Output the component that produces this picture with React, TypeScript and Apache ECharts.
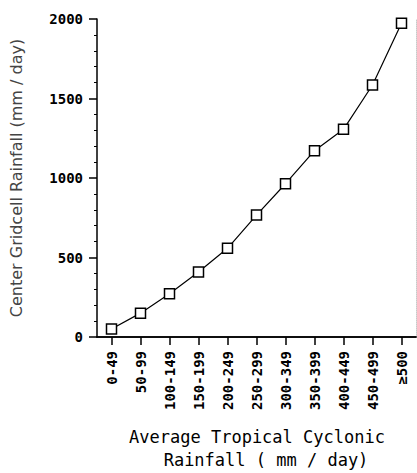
import React, { useEffect, useRef } from "react";
import * as echarts from "echarts";

const categories = [
  "0-49",
  "50-99",
  "100-149",
  "150-199",
  "200-249",
  "250-299",
  "300-349",
  "350-399",
  "400-449",
  "450-499",
  "≥500",
];
const rainfall = [50, 150, 272, 409, 558, 767, 964, 1172, 1306, 1585, 1973];
const yTicks = { min: 0, max: 2000, interval: 500 };
const yTitle = "Center Gridcell Rainfall (mm / day)";
const xTitleLines = ["Average Tropical Cyclonic", "Rainfall ( mm / day)"];

export default function App() {
  const ref = useRef<HTMLDivElement>(null);
  useEffect(() => {
    if (!ref.current) return;
    const chart = echarts.init(ref.current, undefined, { renderer: "svg" });
    const mono = "'DejaVu Sans Mono', 'Liberation Mono', monospace";
    chart.setOption({
      animation: false,
      backgroundColor: "#ffffff",
      grid: { left: 97, right: 1, top: 19, bottom: 136, containLabel: false },
      xAxis: [
        {
          type: "category",
          data: categories,
          boundaryGap: true,
          axisLine: { show: true, lineStyle: { color: "#000", width: 1.5 } },
          axisTick: {
            show: true,
            alignWithLabel: true,
            interval: 0,
            length: 8,
            lineStyle: { color: "#000", width: 1.5 },
          },
          axisLabel: {
            interval: 0,
            rotate: 90,
            margin: 14,
            color: "#000",
            fontFamily: mono,
            fontWeight: "bold",
            fontSize: 14,
          },
          splitLine: { show: false },
        },
        {
          type: "category",
          position: "top",
          data: categories,
          axisLine: { show: true, lineStyle: { color: "#000", width: 1.5 } },
          axisTick: { show: false },
          axisLabel: { show: false },
        },
      ],
      yAxis: [
        {
          type: "value",
          min: yTicks.min,
          max: yTicks.max,
          interval: yTicks.interval,
          axisLine: { show: true, lineStyle: { color: "#000", width: 1.5 } },
          axisTick: { show: true, length: 8, lineStyle: { color: "#000", width: 1.5 } },
          minorTick: { show: true, splitNumber: 5, length: 3, lineStyle: { color: "#000", width: 1 } },
          axisLabel: {
            margin: 14,
            color: "#000",
            fontFamily: mono,
            fontWeight: "bold",
            fontSize: 14,
            formatter: (v: number) => String(v),
          },
          splitLine: { show: false },
          name: yTitle,
          nameLocation: "middle",
          nameGap: 73,
          nameRotate: 90,
          nameTextStyle: {
            color: "#444",
            fontFamily: "'DejaVu Sans', sans-serif",
            fontSize: 16,
          },
        },
        {
          type: "value",
          position: "right",
          min: yTicks.min,
          max: yTicks.max,
          interval: yTicks.interval,
          axisLine: { show: true, lineStyle: { color: "#c8c8c8", width: 1, type: "dotted" } },
          axisTick: { show: false },
          axisLabel: { show: false },
          splitLine: { show: false },
        },
      ],
      graphic: [
        {
          type: "text",
          x: 257,
          y: 437,
          style: {
            text: xTitleLines[0],
            fill: "#000",
            font: "17px 'DejaVu Sans Mono', monospace",
            textAlign: "center",
            textVerticalAlign: "middle",
          },
        },
        {
          type: "text",
          x: 266,
          y: 460,
          style: {
            text: xTitleLines[1],
            fill: "#000",
            font: "17px 'DejaVu Sans Mono', monospace",
            textAlign: "center",
            textVerticalAlign: "middle",
          },
        },
      ],
      series: [
        {
          type: "line",
          data: rainfall,
          symbol: "rect",
          symbolSize: 10,
          lineStyle: { color: "#000", width: 1.2 },
          itemStyle: { color: "#fff", borderColor: "#000", borderWidth: 1.5 },
          z: 5,
        },
      ],
    });
    return () => chart.dispose();
  }, []);
  return (
    <div
      ref={ref}
      style={{ position: "fixed", left: 0, top: 0, width: 417, height: 473, background: "#fff" }}
    />
  );
}
